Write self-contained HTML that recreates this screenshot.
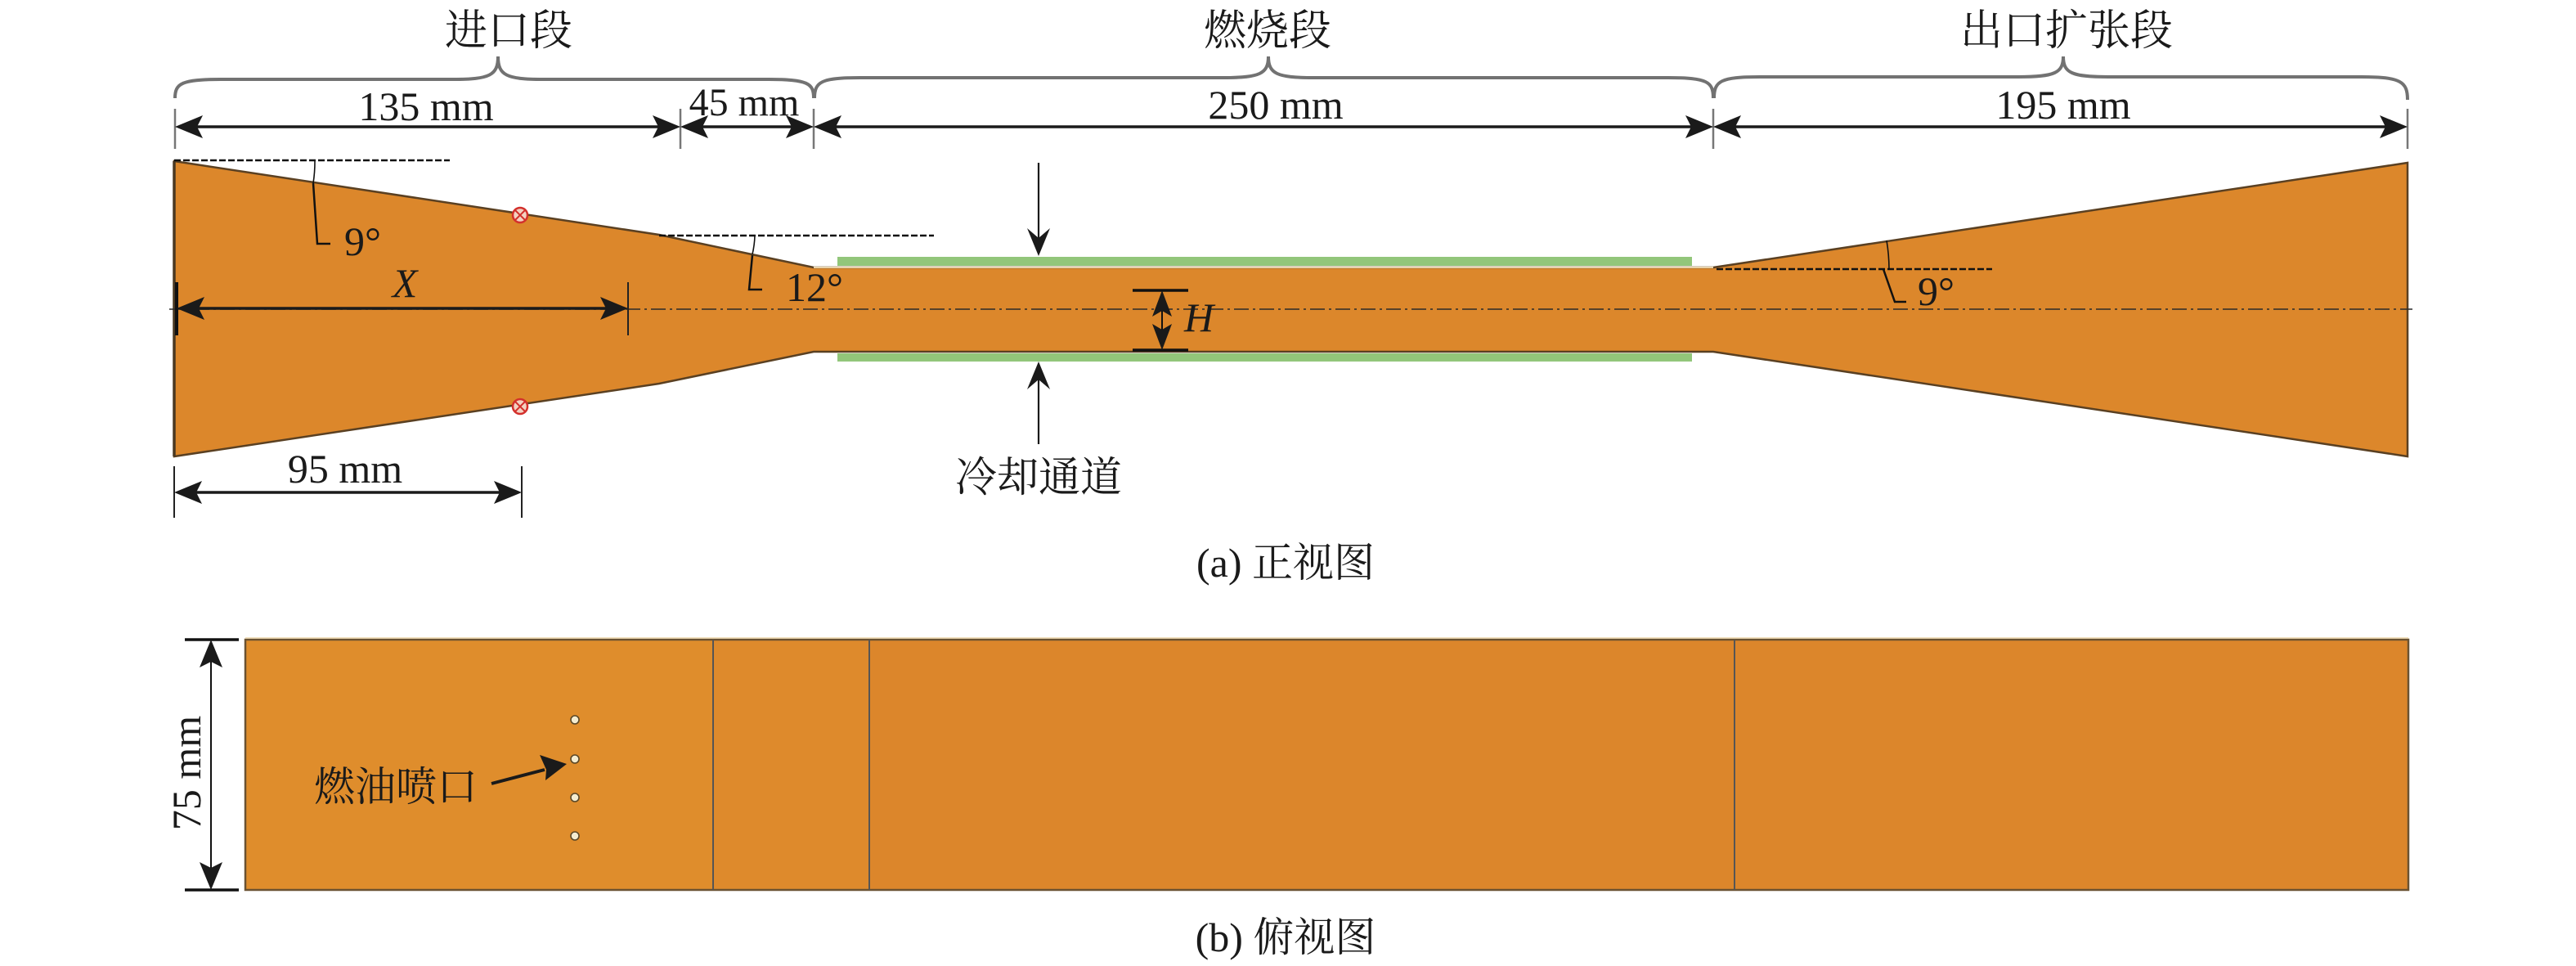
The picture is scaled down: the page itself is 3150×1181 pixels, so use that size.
<!DOCTYPE html>
<html><head><meta charset="utf-8">
<style>html,body{margin:0;padding:0;background:#fff;}svg{display:block}</style>
</head><body>
<svg width="3150" height="1181" viewBox="0 0 3150 1181" xmlns="http://www.w3.org/2000/svg" font-family="'Liberation Serif','Noto Serif CJK SC',serif" fill="#1a1a1a">
<rect width="3150" height="1181" fill="#fff"/>

<!-- Section labels -->
<text x="622" y="55" font-size="52" text-anchor="middle">进口段</text>
<text x="1550" y="55" font-size="52" text-anchor="middle">燃烧段</text>
<text x="2527" y="55" font-size="52" text-anchor="middle">出口扩张段</text>

<!-- Braces -->
<g fill="none" stroke="#727272" stroke-width="4">
<path d="M214,120 C214,102 222,97 270,97 L554,97 C599,97 609,92 609,69 C609,92 619,97 664,97 L940,97 C988,97 995,102 995,120"/>
<path d="M996,120 C996,100 1004,95 1052,95 L1496,95 C1541,95 1551,90 1551,69 C1551,90 1561,95 1606,95 L2040,95 C2088,95 2095,100 2095,120"/>
<path d="M2096,120 C2096,99 2104,94 2152,94 L2468,94 C2513,94 2523,89 2523,69 C2523,89 2533,94 2578,94 L2888,94 C2936,94 2944,100 2944,122"/>
</g>

<!-- Top dimension ticks -->
<g stroke="#777" stroke-width="2.5">
<line x1="214" y1="133" x2="214" y2="182"/>
<line x1="832" y1="133" x2="832" y2="182"/>
<line x1="995" y1="133" x2="995" y2="182"/>
<line x1="2095" y1="133" x2="2095" y2="182"/>
<line x1="2944" y1="133" x2="2944" y2="182"/>
</g>
<!-- Top dimension lines -->
<g stroke="#1a1a1a" stroke-width="3.5">
<line x1="230" y1="155" x2="816" y2="155"/>
<line x1="848" y1="155" x2="979" y2="155"/>
<line x1="1011" y1="155" x2="2079" y2="155"/>
<line x1="2111" y1="155" x2="2928" y2="155"/>
</g>
<g fill="#1a1a1a">
<path d="M214,155 L248,141 L241,155 L248,169 Z"/>
<path d="M832,155 L798,141 L805,155 L798,169 Z"/>
<path d="M832,155 L866,141 L859,155 L866,169 Z"/>
<path d="M995,155 L961,141 L968,155 L961,169 Z"/>
<path d="M995,155 L1029,141 L1022,155 L1029,169 Z"/>
<path d="M2095,155 L2061,141 L2068,155 L2061,169 Z"/>
<path d="M2095,155 L2129,141 L2122,155 L2129,169 Z"/>
<path d="M2944,155 L2910,141 L2917,155 L2910,169 Z"/>
</g>
<text x="521" y="147" font-size="50" text-anchor="middle">135 mm</text>
<text x="910" y="141" font-size="48" text-anchor="middle">45 mm</text>
<text x="1560" y="145" font-size="50" text-anchor="middle">250 mm</text>
<text x="2523" y="145" font-size="50" text-anchor="middle">195 mm</text>

<!-- Front view shape -->
<polygon points="213,197 806,287 995,327 2095,327 2944,199 2944,558 2095,430 995,430 806,469 213,558" fill="#DC872B" stroke="#5a4022" stroke-width="2.5"/>
<line x1="213" y1="197" x2="213" y2="558" stroke="#4a3822" stroke-width="3.5"/>
<line x1="995" y1="327" x2="2095" y2="327" stroke="#e9d2a8" stroke-width="2"/>

<!-- Green cooling bars -->
<rect x="1024" y="314" width="1045" height="11" fill="#92C67A"/>
<rect x="1024" y="432" width="1045" height="10" fill="#92C67A"/>

<!-- Centerline -->
<line x1="207" y1="378" x2="2950" y2="378" stroke="#2a2a2a" stroke-width="1.6" stroke-dasharray="18 5 3 5"/>

<!-- Dashed reference lines -->
<g stroke="#111" stroke-width="2.5" stroke-dasharray="8 3">
<line x1="213" y1="196" x2="550" y2="196"/>
<line x1="806" y1="288" x2="1142" y2="288"/>
<line x1="2099" y1="329" x2="2436" y2="329"/>
</g>

<!-- Angle annotations -->
<g fill="none" stroke="#111">
<path d="M385,197 A172 172 0 0 1 383,224" stroke-width="1.6"/>
<path d="M383,224 L388,298 L404,298" stroke-width="2.5"/>
<path d="M923,288 A117 117 0 0 1 920,311" stroke-width="1.6"/>
<path d="M920,312 L916,354 L932,354" stroke-width="2.5"/>
<path d="M2310,329 A214 214 0 0 0 2307,294" stroke-width="1.6"/>
<path d="M2303,329 L2317,369 L2331,369" stroke-width="2.5"/>
</g>
<text x="421" y="312" font-size="50">9°</text>
<text x="961" y="368" font-size="50">12°</text>
<text x="2345" y="373" font-size="50">9°</text>

<!-- Red markers -->
<g fill="#f3d2c2" stroke="#d3302c" stroke-width="2.5">
<circle cx="636" cy="263" r="9"/>
<circle cx="636" cy="497" r="9"/>
</g>
<g stroke="#d3302c" stroke-width="2">
<line x1="630" y1="257" x2="642" y2="269"/><line x1="642" y1="257" x2="630" y2="269"/>
<line x1="630" y1="491" x2="642" y2="503"/><line x1="642" y1="491" x2="630" y2="503"/>
</g>

<!-- X dimension -->
<line x1="216" y1="345" x2="216" y2="410" stroke="#111" stroke-width="4"/>
<line x1="768" y1="345" x2="768" y2="410" stroke="#222" stroke-width="2"/>
<line x1="232" y1="377" x2="752" y2="377" stroke="#1a1a1a" stroke-width="3.5"/>
<path d="M216,377 L250,363 L243,377 L250,391 Z"/>
<path d="M768,377 L734,363 L741,377 L734,391 Z"/>
<text x="495" y="363" font-size="50" font-style="italic" text-anchor="middle">X</text>

<!-- 95 mm dimension -->
<g stroke="#222" stroke-width="2">
<line x1="213" y1="570" x2="213" y2="633"/>
<line x1="638" y1="570" x2="638" y2="633"/>
</g>
<line x1="229" y1="602" x2="622" y2="602" stroke="#1a1a1a" stroke-width="3.5"/>
<path d="M213,602 L247,588 L240,602 L247,616 Z"/>
<path d="M638,602 L604,588 L611,602 L604,616 Z"/>
<text x="422" y="590" font-size="50" text-anchor="middle">95 mm</text>

<!-- Cooling channel arrows -->
<g stroke="#1a1a1a" stroke-width="2.2">
<line x1="1270" y1="199" x2="1270" y2="300"/>
<line x1="1270" y1="455" x2="1270" y2="543"/>
</g>
<path d="M1270,313 L1256,279 L1270,291 L1284,279 Z"/>
<path d="M1270,442 L1256,476 L1270,464 L1284,476 Z"/>
<text x="1270" y="601" font-size="51" text-anchor="middle">冷却通道</text>

<!-- H dimension -->
<g stroke="#111" stroke-width="3.5">
<line x1="1385" y1="355" x2="1453" y2="355"/>
<line x1="1385" y1="428" x2="1453" y2="428"/>
</g>
<line x1="1421" y1="365" x2="1421" y2="418" stroke="#111" stroke-width="2"/>
<path d="M1421,355 L1409,387 L1421,380 L1433,387 Z"/>
<path d="M1421,428 L1409,396 L1421,403 L1433,396 Z"/>
<text x="1466" y="405" font-size="50" font-style="italic" text-anchor="middle">H</text>

<!-- Caption (a) -->
<text x="1572" y="705" font-size="50" text-anchor="middle">(a) 正视图</text>

<!-- Top view -->
<rect x="300" y="782" width="572" height="306" fill="#DF8D2C"/>
<rect x="872" y="782" width="191" height="306" fill="#DE8A2C"/>
<rect x="1063" y="782" width="1882" height="306" fill="#DC862B"/>
<rect x="300" y="782" width="2645" height="306" fill="none" stroke="#6a5232" stroke-width="2.5"/>
<line x1="300" y1="780" x2="2945" y2="780" stroke="#ecd6a8" stroke-width="1.5"/>
<g stroke="#555" stroke-width="2">
<line x1="872" y1="782" x2="872" y2="1088"/>
<line x1="1063" y1="782" x2="1063" y2="1088"/>
<line x1="2121" y1="782" x2="2121" y2="1088"/>
</g>

<!-- Injector dots -->
<g fill="#f4ecd0" stroke="#5a4828" stroke-width="1.6">
<circle cx="703" cy="880" r="5"/>
<circle cx="703" cy="928" r="5"/>
<circle cx="703" cy="975" r="5"/>
<circle cx="703" cy="1022" r="5"/>
</g>
<text x="484" y="979" font-size="50" text-anchor="middle">燃油喷口</text>
<line x1="601" y1="958" x2="666" y2="941" stroke="#1a1a1a" stroke-width="4"/>
<path d="M693,934 L660,923 L668,941 L667,954 Z" fill="#1a1a1a"/>

<!-- 75 mm dimension -->
<g stroke="#111" stroke-width="3.5">
<line x1="226" y1="782" x2="292" y2="782"/>
<line x1="226" y1="1088" x2="292" y2="1088"/>
</g>
<line x1="258" y1="798" x2="258" y2="1072" stroke="#111" stroke-width="2"/>
<path d="M258,782 L244,816 L258,809 L272,816 Z"/>
<path d="M258,1088 L244,1054 L258,1061 L272,1054 Z"/>
<text transform="translate(245,945) rotate(-90)" font-size="50" text-anchor="middle">75 mm</text>

<!-- Caption (b) -->
<text x="1572" y="1163" font-size="50" text-anchor="middle">(b) 俯视图</text>
</svg>
</body></html>
